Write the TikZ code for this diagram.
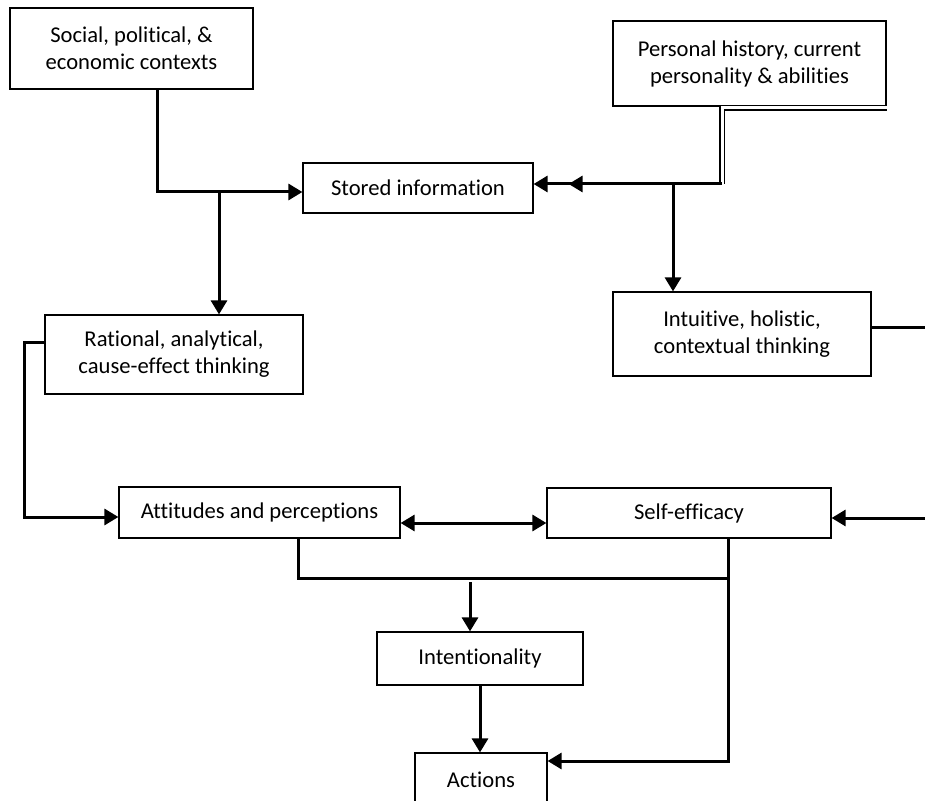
\documentclass[tikz,border=0pt]{standalone}
\usepackage{fontspec}
\setmainfont[Ligatures=NoCommon]{Carlito}
\usetikzlibrary{arrows.meta, calc}
\begin{document}
\begin{tikzpicture}[x=0.5pt, y=-0.5pt, font=\fontsize{11.3}{13.5}\selectfont, >={Triangle[length=7pt, width=8pt]},
    box/.style={draw, line width=0.6pt, align=center, inner sep=0pt},
    conn/.style={line width=1.5pt}]
    \path[use as bounding box, clip] (0,0) rectangle (925,801);
    \node[box, minimum width=121.5pt, minimum height=40.5pt] (social) at (131.5,48.5) {Social, political, \&\\economic contexts};
    \node[box, minimum width=136.5pt, minimum height=42.5pt] (personal) at (749.5,63.5) {Personal history, current\\personality \& abilities};
    \node[box, minimum width=115pt, minimum height=25pt] (stored) at (418,188) {Stored information};
    \node[box, minimum width=129pt, minimum height=42pt] (intuit) at (742,334) {Intuitive, holistic,\\contextual thinking};
    \node[box, minimum width=129pt, minimum height=39.5pt] (rational) at (174,354.5) {Rational, analytical,\\cause-effect thinking};
    \node[box, minimum width=140.5pt, minimum height=25.5pt] (att) at (259.5,512.5) {Attitudes and perceptions};
    \node[box, minimum width=142pt, minimum height=25pt] (self) at (689,513) {Self-efficacy};
    \node[box, minimum width=103pt, minimum height=26.5pt] (intent) at (480,658.5) {Intentionality};
    \node[box, minimum width=66pt, minimum height=27pt] (actions) at (481,780) {Actions};

    \coordinate (split-s) at (219,192);
    \coordinate (split-p) at (673,184);
    \coordinate (join) at (470,578);

    \draw[conn, ->] (social.south -| 157,0) |- (stored.west |- split-s);
    \draw[conn, ->] (split-s) -- (rational.north -| split-s);
    \draw[double, line width=0.6pt, double distance=1.5pt] (personal.south east |- 0,108) -- (722,108) -- (722,184);
    \draw[conn, -{Triangle[length=7pt, width=8pt, sep=10.5pt]Triangle[length=7pt, width=8pt]}] (722,184) -- (stored.east |- split-p);
    \draw[conn, ->] (split-p) -- (intuit.north -| split-p);
    \draw[conn, ->] (intuit.east |- 0,328) -- (960,328) -- (960,518) -- (self.east |- 0,518);
    \draw[conn, ->] (rational.west |- 0,343) -- (24,343) |- (att.west |- 0,517);
    \draw[conn, <->] (att.east |- 0,523) -- (self.west |- 0,523);
    \draw[conn] (att.south -| 298,0) |- (728,578);
    \draw[conn, ->] (self.south -| 728,0) |- (actions.east |- 0,761);
    \draw[conn, ->] (join) ++(0,4) -- (intent.north -| join);
    \draw[conn, ->] (intent.south) -- (actions.north -| intent.south);
\end{tikzpicture}
\end{document}
